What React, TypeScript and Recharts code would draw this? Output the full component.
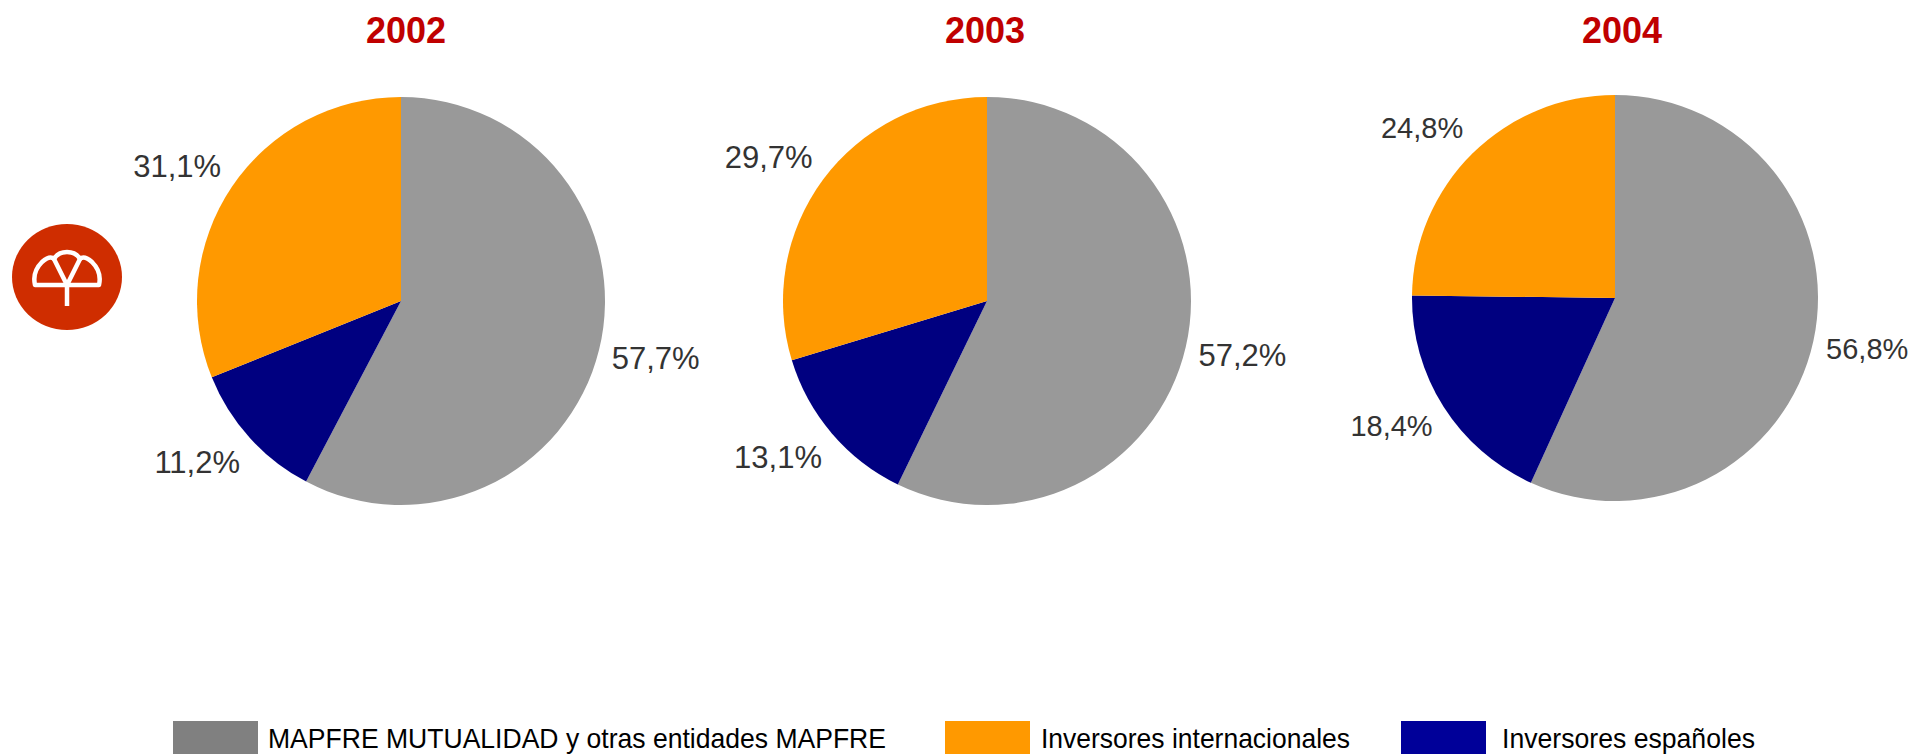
import { PieChart, Pie, Cell } from "recharts";

// shareholder structure, % of capital
const years = ["2002", "2003", "2004"];
const mapfreShare = [57.7, 57.2, 56.8];
const espanolesShare = [11.2, 13.1, 18.4];
const internacionalesShare = [31.1, 29.7, 24.8];

const seriesNames = [
  "MAPFRE MUTUALIDAD y otras entidades MAPFRE",
  "Inversores españoles",
  "Inversores internacionales",
];
const sliceColors = ["#999999", "#000080", "#FF9900"];

// where each pie sits on the page
const pieCenters = [
  { cx: 401, cy: 301, r: 204, font: 31 },
  { cx: 987, cy: 301, r: 204, font: 31 },
  { cx: 1615, cy: 298, r: 203, font: 29 },
];

const legendItems = [
  { name: seriesNames[0], color: "#808080", box: 173, text: 268, len: 618 },
  { name: seriesNames[2], color: "#FF9900", box: 945, text: 1041, len: 309 },
  { name: seriesNames[1], color: "#000099", box: 1401, text: 1502, len: 253 },
];

const FONT = "'Liberation Sans', Arial, sans-serif";
const RAD = Math.PI / 180;

const fmt = (v: number) => `${v.toFixed(1).replace(".", ",")}%`;

// "outside end" label: the text box sits just beyond the rim, on the slice's side
const makeLabel = (font: number) => (props: any) => {
  const { cx, cy, midAngle, outerRadius, value } = props;
  const r = outerRadius + 13;
  const cos = Math.cos(-midAngle * RAD);
  const sin = Math.sin(-midAngle * RAD);
  const x = cx + r * cos;
  const y = cy + r * sin + sin * (font * 0.77);
  return (
    <text
      x={x}
      y={y}
      textAnchor={cos >= 0 ? "start" : "end"}
      dominantBaseline="central"
      fill="#333333"
      fontSize={font}
      fontFamily={FONT}
    >
      {fmt(value)}
    </text>
  );
};

export default function App() {
  const pies = years.map((year, i) => ({
    year,
    data: [
      { name: seriesNames[0], value: mapfreShare[i] },
      { name: seriesNames[1], value: espanolesShare[i] },
      { name: seriesNames[2], value: internacionalesShare[i] },
    ],
  }));

  return (
    <div
      style={{
        position: "absolute",
        left: 0,
        top: 0,
        width: 1912,
        height: 754,
        overflow: "hidden",
        background: "#fff",
      }}
    >
      <svg
        width={1912}
        height={754}
        style={{ position: "absolute", left: 0, top: 0 }}
      >
        {/* logo */}
        <ellipse cx={67} cy={277} rx={55} ry={53} fill="#CF2D00" />
        <g fill="none" stroke="#fff" strokeWidth={4.5} strokeLinejoin="round">
          <path d="M 35 285 L 99 285 Q 102 272 92 262 Q 84 255 80 259 Q 76 252 67 252 Q 58 252 54 259 Q 50 255 42 262 Q 32 272 35 285 Z" />
          <path d="M 54 259 L 67 285 L 80 259" />
          <path d="M 67 285 L 67 306" />
        </g>

        {years.map((y, i) => (
          <text
            key={y}
            x={[406, 985, 1622][i]}
            y={43}
            textAnchor="middle"
            fill="#C00000"
            fontSize={36}
            fontWeight="bold"
            fontFamily={FONT}
          >
            {y}
          </text>
        ))}

        {legendItems.map((it) => (
          <g key={it.name}>
            <rect x={it.box} y={721} width={85} height={40} fill={it.color} />
            <text
              x={it.text}
              y={748}
              fill="#000"
              fontSize={28}
              fontFamily={FONT}
              textLength={it.len}
              lengthAdjust="spacingAndGlyphs"
            >
              {it.name}
            </text>
          </g>
        ))}
      </svg>

      <div style={{ position: "absolute", left: 0, top: 0 }}>
        <PieChart
          width={1912}
          height={754}
          margin={{ top: 0, right: 0, bottom: 0, left: 0 }}
        >
          {pies.map((p, i) => (
            <Pie
              key={p.year}
              data={p.data}
              dataKey="value"
              nameKey="name"
              cx={pieCenters[i].cx}
              cy={pieCenters[i].cy}
              outerRadius={pieCenters[i].r}
              startAngle={90}
              endAngle={-270}
              stroke="none"
              label={makeLabel(pieCenters[i].font)}
              labelLine={false}
              isAnimationActive={false}
            >
              {p.data.map((d, j) => (
                <Cell key={d.name} fill={sliceColors[j]} />
              ))}
            </Pie>
          ))}
        </PieChart>
      </div>
    </div>
  );
}
